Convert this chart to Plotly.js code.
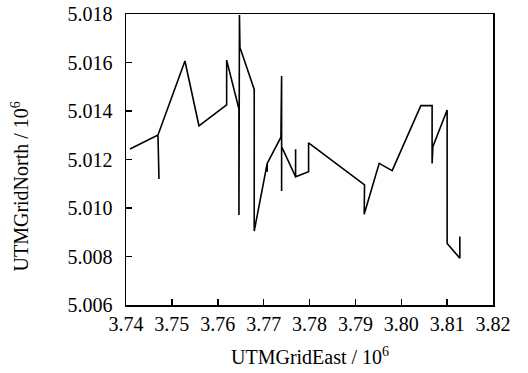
<!DOCTYPE html>
<html>
<head>
<meta charset="utf-8">
<script src="https://cdn.plot.ly/plotly-3.0.1.min.js"></script>
<style>html,body{margin:0;padding:0;background:#fff;}#chart{width:528px;height:373px;}</style>
</head>
<body>
<div id="chart"></div>
<script>
// UTM grid east (×10^6) along the traced path
const utmEast = [3.74087, 3.74697, 3.74719, 3.74697, 3.75285, 3.75590, 3.76194, 3.76194,
  3.76462, 3.76462, 3.76473, 3.76484, 3.76795, 3.76795, 3.77078, 3.77078, 3.77078,
  3.77377, 3.77392, 3.77392, 3.77392, 3.77697, 3.77697, 3.77697, 3.77980, 3.77980,
  3.79200, 3.79192, 3.79519, 3.79802, 3.80427, 3.80673, 3.80673, 3.80689, 3.81000,
  3.81000, 3.81277, 3.81277];
// UTM grid north (×10^6)
const utmNorth = [5.01243, 5.01301, 5.01120, 5.01301, 5.01606, 5.01339, 5.01425, 5.01610,
  5.01408, 5.00971, 5.01796, 5.01662, 5.01489, 5.00905, 5.01184, 5.01150, 5.01184,
  5.01292, 5.01544, 5.01070, 5.01253, 5.01129, 5.01242, 5.01129, 5.01150, 5.01269,
  5.01095, 5.00974, 5.01184, 5.01154, 5.01422, 5.01422, 5.01184, 5.01253, 5.01404,
  5.00854, 5.00793, 5.00882];
const xTitle = 'UTMGridEast / 10<sup>6</sup>';
const yTitle = 'UTMGridNorth / 10<sup>6</sup>';

const font = {family: 'Liberation Serif, serif', size: 20, color: '#000'};

Plotly.newPlot('chart', [{
  x: utmEast, y: utmNorth, type: 'scatter', mode: 'lines',
  line: {color: '#000', width: 1.6}, hoverinfo: 'none'
}], {
  width: 528, height: 373,
  margin: {l: 126, r: 35, t: 14, b: 68},
  paper_bgcolor: '#fff', plot_bgcolor: '#fff',
  showlegend: false,
  font: font,
  xaxis: {
    range: [3.74, 3.82], tickmode: 'linear', tick0: 3.74, dtick: 0.01, tickformat: '.2f',
    showgrid: false, zeroline: false, showline: true, mirror: true,
    linecolor: '#000', linewidth: 1.5, ticks: 'inside', ticklen: 6, tickwidth: 1.5, tickcolor: '#000',
    tickfont: {family: 'Liberation Serif, serif', size: 20, color: '#000'}
  },
  yaxis: {
    range: [5.006, 5.018], tickmode: 'linear', tick0: 5.006, dtick: 0.002, tickformat: '.3f',
    showgrid: false, zeroline: false, showline: true, mirror: true,
    linecolor: '#000', linewidth: 1.5, ticks: 'inside', ticklen: 6, tickwidth: 1.5, tickcolor: '#000',
    tickfont: {family: 'Liberation Serif, serif', size: 20, color: '#000'}, ticklabelstandoff: 8
  },
  annotations: [
    {text: xTitle, xref: 'paper', yref: 'paper', x: 0.5, y: 0, yshift: -51,
     xanchor: 'center', yanchor: 'middle', showarrow: false, font: font},
    {text: yTitle, xref: 'paper', yref: 'paper', x: 0, xshift: -107, y: 0.5, yshift: -27,
     xanchor: 'center', yanchor: 'middle', textangle: -90, showarrow: false, font: font}
  ]
}, {displayModeBar: false, staticPlot: true});
</script>
</body>
</html>
